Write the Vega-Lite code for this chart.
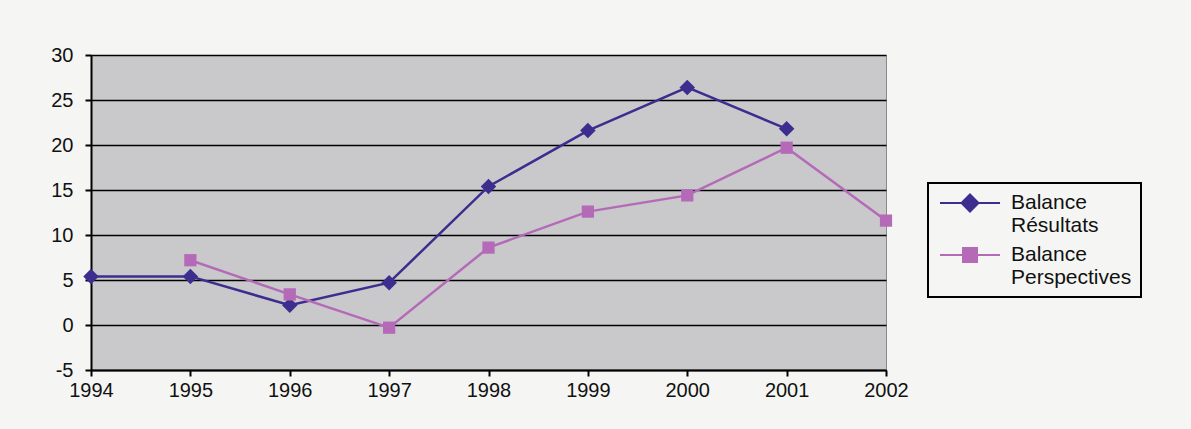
{
  "$schema": "https://vega.github.io/schema/vega-lite/v6.json",
  "autosize": {"type": "none"},
  "width": 795,
  "height": 315,
  "padding": {"left": 91, "top": 55, "right": 305, "bottom": 59},
  "background": "#f5f6f4",
  "config": {
    "font": "Liberation Sans",
    "view": {"fill": "#c9c9cc", "stroke": "#8a8a8a", "strokeWidth": 1},
    "legend": {"strokeColor": "#000000", "strokeWidth": 2}
  },
  "data": {
    "values": [
      {"year": 1994, "series": "Balance Résultats", "value": 5.4},
      {"year": 1995, "series": "Balance Résultats", "value": 5.4},
      {"year": 1996, "series": "Balance Résultats", "value": 2.2},
      {"year": 1997, "series": "Balance Résultats", "value": 4.7},
      {"year": 1998, "series": "Balance Résultats", "value": 15.4},
      {"year": 1999, "series": "Balance Résultats", "value": 21.6},
      {"year": 2000, "series": "Balance Résultats", "value": 26.4},
      {"year": 2001, "series": "Balance Résultats", "value": 21.8},
      {"year": 1995, "series": "Balance Perspectives", "value": 7.2},
      {"year": 1996, "series": "Balance Perspectives", "value": 3.4},
      {"year": 1997, "series": "Balance Perspectives", "value": -0.3},
      {"year": 1998, "series": "Balance Perspectives", "value": 8.6},
      {"year": 1999, "series": "Balance Perspectives", "value": 12.6},
      {"year": 2000, "series": "Balance Perspectives", "value": 14.4},
      {"year": 2001, "series": "Balance Perspectives", "value": 19.7},
      {"year": 2002, "series": "Balance Perspectives", "value": 11.6}
    ]
  },
  "encoding": {
    "x": {
      "field": "year", "type": "quantitative",
      "scale": {"domain": [1994, 2002], "nice": false, "zero": false},
      "axis": {
        "title": null, "values": [1994, 1995, 1996, 1997, 1998, 1999, 2000, 2001, 2002],
        "format": "d", "grid": false, "domainColor": "#000000", "domainWidth": 2,
        "tickColor": "#000000", "tickWidth": 2, "tickSize": 6,
        "labelFontSize": 20, "labelColor": "#111111", "labelPadding": 4, "labelFlush": false
      }
    },
    "y": {
      "field": "value", "type": "quantitative",
      "scale": {"domain": [-5, 30], "nice": false, "zero": false},
      "axis": {
        "title": null, "values": [-5, 0, 5, 10, 15, 20, 25, 30],
        "labelExpr": "replace(datum.label, '−', '-')",
        "grid": true, "gridColor": "#000000", "gridWidth": 1.6, "gridOpacity": 1,
        "domainColor": "#000000", "domainWidth": 2,
        "tickColor": "#000000", "tickWidth": 2, "tickSize": 6,
        "labelFontSize": 20, "labelColor": "#111111", "labelPadding": 12
      }
    },
    "color": {
      "field": "series", "type": "nominal",
      "scale": {"domain": ["Balance Résultats", "Balance Perspectives"], "range": ["#3d2d8e", "#b56ab8"]},
      "legend": {
        "title": null, "orient": "none", "legendX": 837, "legendY": 128,
        "padding": 9,
        "labelFontSize": 21, "labelColor": "#111111", "labelExpr": "split(datum.label, ' ')",
        "labelLimit": 300, "rowPadding": 8, "symbolSize": 400, "symbolStrokeWidth": 2,
        "labelOffset": 30, "symbolOffset": 22
      }
    }
  },
  "layer": [
    {
      "mark": {"type": "line", "strokeWidth": 2.5},
      "encoding": {"detail": {"field": "series"}}
    },
    {
      "transform": [{"filter": "datum.series == 'Balance Résultats'"}],
      "mark": {"type": "point", "filled": true, "opacity": 1, "shape": "diamond", "size": 240}
    },
    {
      "transform": [{"filter": "datum.series == 'Balance Perspectives'"}],
      "mark": {"type": "point", "filled": true, "opacity": 1, "shape": "square", "size": 150}
    },
    {
      "transform": [{"filter": "datum.year > 3000"}],
      "mark": {"type": "point", "filled": true, "opacity": 1},
      "encoding": {
        "shape": {
          "field": "series", "type": "nominal",
          "scale": {
            "domain": ["Balance Résultats", "Balance Perspectives"],
            "range": [
              "M-3,0H-0.85M0,-0.85L0.85,0L0,0.85L-0.85,0ZM0.85,0H3",
              "M-3,0H-0.7M-0.7,-0.7H0.7V0.7H-0.7ZM0.7,0H3"
            ]
          },
          "legend": {
            "title": null, "orient": "none", "legendX": 837, "legendY": 128,
            "padding": 9,
            "labelFontSize": 21, "labelColor": "#111111", "labelExpr": "split(datum.label, ' ')",
            "labelLimit": 300, "rowPadding": 8, "symbolSize": 400, "symbolStrokeWidth": 2,
            "labelOffset": 30, "symbolOffset": 22
          }
        }
      }
    }
  ]
}
